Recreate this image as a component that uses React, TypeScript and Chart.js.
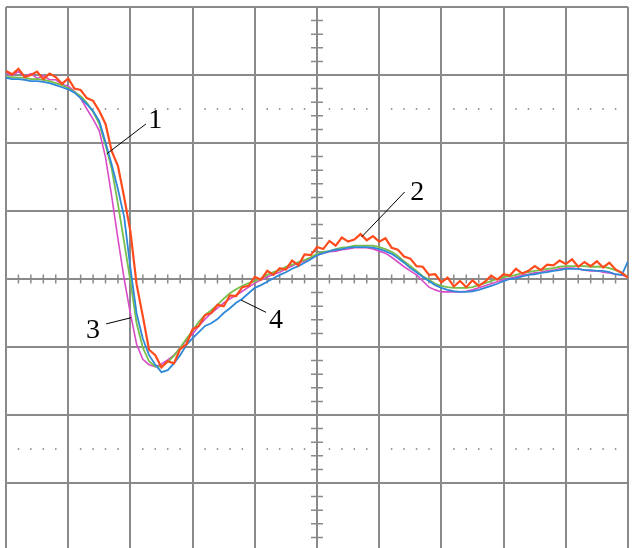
import React, { useEffect, useRef } from "react";
import { Chart, registerables } from "chart.js";

Chart.register(...registerables);

// time axis (divisions), sampled every 0.1 div
const TIME_START = -5;
const TIME_STEP = 0.1;
const TIME_COUNT = 101;
const times = Array.from({ length: TIME_COUNT }, (_, i) => +(TIME_START + i * TIME_STEP).toFixed(1));

// trace 1 (green)
const trace1 = [
  2.97, 2.97, 2.96, 2.96, 2.94, 2.94, 2.93, 2.91, 2.88, 2.85,
  2.81, 2.75, 2.69, 2.59, 2.46, 2.28, 1.97, 1.62, 1.10, 0.54,
  -0.03, -0.65, -1.01, -1.21, -1.29, -1.29, -1.22, -1.13, -1.01, -0.88,
  -0.76, -0.63, -0.53, -0.46, -0.38, -0.29, -0.21, -0.15, -0.10, -0.06,
  -0.03, 0.01, 0.06, 0.10, 0.13, 0.18, 0.21, 0.25, 0.28, 0.32,
  0.37, 0.40, 0.41, 0.44, 0.46, 0.47, 0.49, 0.49, 0.49, 0.49,
  0.47, 0.44, 0.40, 0.34, 0.26, 0.19, 0.12, 0.04, -0.01, -0.07,
  -0.10, -0.12, -0.13, -0.13, -0.13, -0.12, -0.09, -0.06, -0.03, 0.00,
  0.03, 0.04, 0.06, 0.09, 0.10, 0.12, 0.13, 0.15, 0.16, 0.18,
  0.19, 0.19, 0.19, 0.19, 0.18, 0.18, 0.18, 0.16, 0.13, 0.09,
  0.03,
];

// trace 2 (red, noisy)
const trace2 = [
  3.06, 3.01, 3.09, 2.97, 3.00, 3.05, 2.94, 3.02, 2.97, 2.87,
  2.95, 2.80, 2.78, 2.66, 2.62, 2.47, 2.28, 1.88, 1.66, 1.20,
  0.70, -0.08, -0.55, -1.04, -1.12, -1.30, -1.21, -1.24, -1.03, -0.96,
  -0.74, -0.69, -0.53, -0.50, -0.38, -0.40, -0.24, -0.25, -0.12, -0.10,
  0.03, -0.01, 0.12, 0.06, 0.16, 0.14, 0.27, 0.20, 0.36, 0.35,
  0.47, 0.44, 0.56, 0.49, 0.61, 0.55, 0.58, 0.66, 0.57, 0.63,
  0.55, 0.60, 0.46, 0.43, 0.33, 0.30, 0.19, 0.18, 0.06, 0.07,
  -0.05, 0.02, -0.11, -0.03, -0.12, -0.02, -0.10, -0.04, 0.05, -0.01,
  0.07, 0.05, 0.15, 0.08, 0.12, 0.19, 0.13, 0.21, 0.20, 0.27,
  0.22, 0.29, 0.18, 0.25, 0.19, 0.26, 0.17, 0.24, 0.14, 0.09,
  0.02,
];

// trace 3 (magenta)
const trace3 = [
  3.04, 2.99, 3.05, 2.98, 3.02, 2.95, 2.99, 2.93, 2.93, 2.86,
  2.84, 2.76, 2.66, 2.50, 2.35, 2.18, 1.79, 1.21, 0.59, 0.00,
  -0.51, -0.96, -1.18, -1.26, -1.29, -1.25, -1.19, -1.12, -1.01, -0.90,
  -0.81, -0.69, -0.59, -0.50, -0.43, -0.35, -0.29, -0.24, -0.18, -0.12,
  -0.06, -0.01, 0.03, 0.07, 0.10, 0.15, 0.19, 0.24, 0.26, 0.31,
  0.35, 0.38, 0.40, 0.41, 0.43, 0.44, 0.46, 0.46, 0.46, 0.44,
  0.41, 0.38, 0.32, 0.25, 0.18, 0.12, 0.06, -0.03, -0.12, -0.16,
  -0.19, -0.19, -0.19, -0.19, -0.18, -0.16, -0.13, -0.10, -0.07, -0.04,
  -0.01, 0.01, 0.03, 0.06, 0.07, 0.09, 0.10, 0.12, 0.13, 0.15,
  0.16, 0.16, 0.15, 0.13, 0.12, 0.12, 0.10, 0.09, 0.07, 0.06,
  0.03,
];

// trace 4 (blue)
const trace4 = [
  2.96, 2.94, 2.94, 2.93, 2.91, 2.91, 2.90, 2.88, 2.85, 2.82,
  2.79, 2.74, 2.66, 2.57, 2.47, 2.32, 2.01, 1.68, 1.32, 0.91,
  0.16, -0.51, -0.88, -1.12, -1.26, -1.37, -1.34, -1.24, -1.12, -0.97,
  -0.87, -0.78, -0.69, -0.65, -0.59, -0.50, -0.43, -0.35, -0.29, -0.21,
  -0.13, -0.09, -0.04, 0.01, 0.06, 0.10, 0.15, 0.19, 0.24, 0.29,
  0.35, 0.38, 0.41, 0.43, 0.44, 0.46, 0.47, 0.47, 0.47, 0.46,
  0.44, 0.41, 0.37, 0.31, 0.24, 0.16, 0.10, 0.03, -0.03, -0.09,
  -0.13, -0.16, -0.18, -0.19, -0.19, -0.18, -0.16, -0.13, -0.10, -0.07,
  -0.03, 0.00, 0.01, 0.04, 0.06, 0.07, 0.09, 0.10, 0.12, 0.13,
  0.15, 0.15, 0.15, 0.13, 0.13, 0.12, 0.12, 0.10, 0.07, 0.06,
  0.26,
];

// annotation labels (text position and leader line, in divisions)
const labelTexts = ["1", "2", "3", "4"];
const labelPos = [[-2.6, 2.34], [1.61, 1.29], [-3.6, -0.74], [-0.66, -0.6]];
const leaderFrom = [[-2.75, 2.28], [1.41, 1.28], [-3.39, -0.66], [-0.82, -0.49]];
const leaderTo = [[-3.38, 1.84], [0.72, 0.62], [-2.99, -0.57], [-1.22, -0.31]];

const X_MIN = -5, X_MAX = 5, Y_MIN = -4, Y_MAX = 4;
const MINOR = 0.2;
const DOT_ROWS = [2.5, -2.5];
const GRID_COLOR = "#8a8a8a";

const scopePlugin = {
  id: "scope",
  beforeDatasetsDraw(chart: any) {
    const { ctx, scales } = chart;
    const x = scales.x, y = scales.y;
    const x0 = x.getPixelForValue(0);
    const y0 = y.getPixelForValue(0);
    ctx.save();
    ctx.strokeStyle = GRID_COLOR;
    ctx.lineWidth = 1.5;
    ctx.beginPath();
    const nx = Math.round((X_MAX - X_MIN) / MINOR);
    for (let i = 0; i <= nx; i++) {
      const px = x.getPixelForValue(X_MIN + i * MINOR);
      ctx.moveTo(px, y0 - 4.5);
      ctx.lineTo(px, y0 + 4.5);
    }
    const ny = Math.round((Y_MAX - Y_MIN) / MINOR);
    for (let j = 0; j <= ny; j++) {
      const py = y.getPixelForValue(Y_MIN + j * MINOR);
      ctx.moveTo(x0 - 6, py);
      ctx.lineTo(x0 + 6, py);
    }
    ctx.stroke();
    ctx.fillStyle = "#7a7a7a";
    for (const d of DOT_ROWS) {
      const py = y.getPixelForValue(d);
      for (let i = 0; i < nx; i++) {
        if (i % 5 === 0) continue;
        const px = x.getPixelForValue(X_MIN + i * MINOR);
        ctx.fillRect(px - 0.75, py - 0.75, 1.5, 1.5);
      }
    }
    ctx.restore();
  },
  afterDraw(chart: any) {
    const { ctx, scales } = chart;
    const x = scales.x, y = scales.y;
    ctx.save();
    ctx.strokeStyle = "#000";
    ctx.lineWidth = 1;
    ctx.fillStyle = "#000";
    ctx.font = '28px "Liberation Serif", "Times New Roman", serif';
    ctx.textAlign = "center";
    ctx.textBaseline = "middle";
    labelTexts.forEach((t, i) => {
      ctx.beginPath();
      ctx.moveTo(x.getPixelForValue(leaderFrom[i][0]), y.getPixelForValue(leaderFrom[i][1]));
      ctx.lineTo(x.getPixelForValue(leaderTo[i][0]), y.getPixelForValue(leaderTo[i][1]));
      ctx.stroke();
      ctx.fillText(t, x.getPixelForValue(labelPos[i][0]), y.getPixelForValue(labelPos[i][1]) + 1);
    });
    ctx.restore();
  },
};

export default function App() {
  const ref = useRef<HTMLCanvasElement | null>(null);
  useEffect(() => {
    document.body.style.margin = "0";
    if (!ref.current) return;
    const mk = (data: number[]) => data.map((v, i) => ({ x: times[i], y: v }));
    const chart = new Chart(ref.current, {
      type: "line",
      data: {
        datasets: [
          { label: "2", data: mk(trace2), borderColor: "#ff4a1c", borderWidth: 2.2, order: 0 },
          { label: "4", data: mk(trace4), borderColor: "#2f88d8", borderWidth: 1.8, order: 1 },
          { label: "1", data: mk(trace1), borderColor: "#76bf4a", borderWidth: 1.8, order: 2 },
          { label: "3", data: mk(trace3), borderColor: "#d94cc8", borderWidth: 1.6, order: 3 },
        ],
      },
      options: {
        animation: false,
        responsive: false,
        devicePixelRatio: 1,
        layout: { padding: { left: 6, right: 8, top: 7, bottom: 9 } },
        elements: { point: { radius: 0 }, line: { tension: 0, borderJoinStyle: "miter" } },
        plugins: { legend: { display: false }, tooltip: { enabled: false } },
        scales: {
          x: {
            type: "linear",
            min: X_MIN,
            max: X_MAX,
            ticks: { display: false, stepSize: 1 },
            grid: { color: GRID_COLOR, lineWidth: 2, drawTicks: false },
            border: { display: false },
          },
          y: {
            type: "linear",
            min: Y_MIN,
            max: Y_MAX,
            ticks: { display: false, stepSize: 1 },
            grid: { color: GRID_COLOR, lineWidth: 2, drawTicks: false },
            border: { display: false },
          },
        },
      },
      plugins: [scopePlugin],
    } as any);
    return () => chart.destroy();
  }, []);
  return (
    <div style={{ width: 636, height: 548, overflow: "hidden", background: "#fff" }}>
      <canvas ref={ref} width={636} height={560} style={{ display: "block" }} />
    </div>
  );
}
